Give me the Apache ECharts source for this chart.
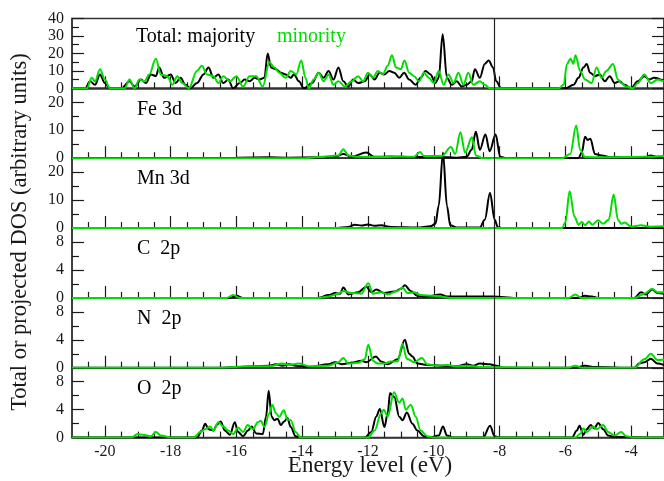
<!DOCTYPE html>
<html><head><meta charset="utf-8">
<script src="https://cdn.jsdelivr.net/npm/echarts@6/dist/echarts.min.js"></script>
<style>html,body{margin:0;padding:0;background:#fff}#c{width:664px;height:481px}</style>
</head><body><div id="c"></div>
<script>
// ---------- data ----------
const energyMin = -21, energyMax = -3, fermiLevel = -8.17;
const xMajorTicks = [-20,-18,-16,-14,-12,-10,-8,-6,-4];
const xMinorTicks = [-20.5,-19.5,-19,-18.5,-17.5,-17,-16.5,-15.5,-15,-14.5,-13.5,-13,-12.5,-11.5,-11,-10.5,-9.5,-9,-8.5,-7.5,-7,-6.5,-5.5,-5,-4.5,-3.5];
const panelNames = ['Total: majority','Fe 3d','Mn 3d','C  2p','N  2p','O  2p'];
const panelMax = [40,25,25,10,10,10];
const yMajorTicks = [[0,10,20,30,40],[0,10,20],[0,10,20],[0,4,8],[0,4,8],[0,4,8]];
const yMinorTicks = [[5,15,25,35],[5,15],[5,15],[2,6],[2,6],[2,6]];

const totalMaj = [[-21,0],[-20.6,0],[-20.45,4],[-20.3,2],[-20.15,8],[-20.0,3],[-19.85,0],[-19.5,0],[-19.25,4],[-19.1,1],[-18.9,5],[-18.75,3],[-18.6,8],[-18.45,7],[-18.35,12],[-18.2,6],[-18.0,8],[-17.85,3],[-17.7,6],[-17.55,2],[-17.4,0],[-17.2,3],[-17.0,8],[-16.85,12],[-16.7,6],[-16.55,8],[-16.4,3],[-16.25,5],[-16.1,0],[-15.9,3],[-15.75,5],[-15.6,4],[-15.45,6],[-15.3,5],[-15.15,6],[-15.05,20],[-14.95,12],[-14.8,11],[-14.65,9],[-14.5,8],[-14.35,6],[-14.25,8],[-14.1,4],[-13.95,0],[-13.7,3],[-13.5,9],[-13.35,6],[-13.2,10],[-13.05,5],[-12.9,12],[-12.75,4],[-12.6,1],[-12.45,5],[-12.3,3],[-12.1,4],[-11.95,8],[-11.8,5],[-11.65,9],[-11.5,8],[-11.35,10],[-11.2,9],[-11.05,6],[-10.9,9],[-10.75,5],[-10.55,2],[-10.4,6],[-10.25,10],[-10.1,8],[-9.95,3],[-9.85,6],[-9.73,31],[-9.6,6],[-9.45,2],[-9.3,4],[-9.15,1],[-9.0,2],[-8.85,4],[-8.75,11],[-8.6,6],[-8.45,14],[-8.33,16],[-8.2,12],[-8.1,4],[-7.95,0],[-6.0,0],[-5.75,2],[-5.6,6],[-5.45,12],[-5.35,14],[-5.25,9],[-5.1,7],[-4.95,8],[-4.8,4],[-4.65,7],[-4.5,3],[-4.35,4],[-4.2,2],[-4.0,0],[-3.8,4],[-3.6,7],[-3.45,5],[-3.3,6],[-3.0,4]];
const totalMin = [[-21,0],[-20.55,0],[-20.4,6],[-20.3,4],[-20.15,11],[-20.0,5],[-19.85,0],[-19.4,0],[-19.25,5],[-19.1,0],[-18.95,5],[-18.8,4],[-18.65,8],[-18.45,17],[-18.3,8],[-18.1,7],[-17.95,2],[-17.8,7],[-17.65,3],[-17.45,0],[-17.2,10],[-17.05,13],[-16.9,8],[-16.7,7],[-16.55,3],[-16.4,7],[-16.2,4],[-16.0,7],[-15.8,1],[-15.6,7],[-15.4,7],[-15.2,1],[-15.0,15],[-14.85,12],[-14.7,9],[-14.5,6],[-14.35,10],[-14.18,8],[-14.03,16],[-13.9,6],[-13.8,0],[-13.65,5],[-13.5,9],[-13.35,4],[-13.2,8],[-13.05,2],[-12.9,4],[-12.7,1],[-12.5,4],[-12.3,7],[-12.15,4],[-12.0,9],[-11.85,6],[-11.7,10],[-11.55,8],[-11.4,13],[-11.27,19],[-11.15,12],[-11.0,11],[-10.89,16],[-10.75,9],[-10.6,7],[-10.45,4],[-10.3,9],[-10.15,6],[-10.0,3],[-9.85,10],[-9.7,2],[-9.55,8],[-9.4,3],[-9.25,9],[-9.1,2],[-8.95,9],[-8.8,2],[-8.6,4],[-8.45,2],[-8.3,0],[-6.2,0],[-6.05,2],[-5.95,14],[-5.84,17],[-5.76,14],[-5.69,19],[-5.55,10],[-5.4,5],[-5.2,3],[-5.05,12],[-4.9,6],[-4.75,10],[-4.55,14],[-4.4,5],[-4.3,3],[-4.15,1],[-3.95,0],[-3.8,3],[-3.6,8],[-3.4,3],[-3.2,5],[-3.0,4]];
const fe3dMaj = [[-21,0],[-16.5,0],[-16,0.2],[-15,0.3],[-14.5,0.2],[-13.5,0.3],[-13,0.5],[-12.75,1.5],[-12.5,0.6],[-12.05,2],[-11.8,0.5],[-11.3,0.6],[-11,0.5],[-10.5,0.4],[-10,0.5],[-9.6,0.3],[-9.3,0.2],[-9.0,0.5],[-8.85,3],[-8.72,9.5],[-8.6,3],[-8.43,8.5],[-8.3,2.5],[-8.12,8.5],[-7.98,0.5],[-7.8,0],[-5.6,0],[-5.5,2],[-5.4,7.7],[-5.32,6.5],[-5.24,7],[-5.1,1.5],[-4.9,1],[-4.6,0.3],[-3.6,0.3],[-3.4,1],[-3.2,0.5],[-3,0.5]];
const fe3dMin = [[-21,0],[-14,0],[-13.5,0.4],[-12.9,1],[-12.75,3.2],[-12.6,1],[-12.3,0.5],[-11.5,0.4],[-11,0.6],[-10.6,0.5],[-10.42,2.2],[-10.3,0.8],[-9.75,0.8],[-9.48,4],[-9.35,1.5],[-9.19,9.3],[-9.05,2],[-8.84,7.5],[-8.72,1],[-8.5,0],[-6.1,0],[-5.85,1.5],[-5.67,11.7],[-5.55,3],[-5.4,0.4],[-4.8,0.3],[-3.5,0.5],[-3,0.8]];
const mn3dMaj = [[-21,0],[-13,0],[-12.6,0.4],[-12.4,1.2],[-12.2,0.9],[-12,1.3],[-11.8,0.8],[-11.6,1],[-11.3,0.4],[-10.5,0.2],[-10.1,0.6],[-9.95,1.5],[-9.85,8],[-9.72,27],[-9.6,8],[-9.5,1],[-9.3,0.2],[-8.6,0.2],[-8.45,3],[-8.29,12.6],[-8.15,3],[-8.05,0.3],[-7.9,0],[-3,0]];
const mn3dMin = [[-21,0],[-6.1,0],[-6.0,2],[-5.87,13.2],[-5.72,4],[-5.6,1.2],[-5.5,2.2],[-5.4,1],[-5.28,2.3],[-5.18,1.2],[-5.0,2.8],[-4.85,1.5],[-4.68,3],[-4.53,12],[-4.4,3],[-4.3,1.5],[-4.2,2],[-4.0,0.5],[-3.7,1],[-3.4,0.5],[-3,0.6]];
const c2pMaj = [[-21,0],[-16.2,0],[-16,0.3],[-15.8,0],[-13.5,0],[-13.2,0.4],[-13,0.7],[-12.85,0.6],[-12.75,1.5],[-12.6,0.5],[-12.3,0.8],[-12.05,1.6],[-11.9,0.8],[-11.75,1.2],[-11.5,0.7],[-11.2,0.9],[-11.0,1.3],[-10.88,1.8],[-10.7,1],[-10.5,0.3],[-10.2,0.2],[-9.8,0.5],[-9.6,0.2],[-8.2,0.2],[-7.5,0],[-5.6,0],[-5.4,0.3],[-5.2,0.2],[-5,0],[-3.9,0],[-3.7,0.8],[-3.55,0.5],[-3.36,1.2],[-3.2,0.7],[-3,0.6]];
const c2pMin = [[-21,0],[-16.3,0],[-16.1,0.4],[-15.9,0],[-13.5,0],[-13.2,0.2],[-12.9,0.6],[-12.75,1],[-12.5,0.7],[-12.2,0.6],[-11.99,2.1],[-11.85,0.6],[-11.6,0.8],[-11.4,0.5],[-11.1,1],[-10.95,1.5],[-10.8,0.7],[-10.6,0.8],[-10.4,0.4],[-10.0,0.3],[-9.5,0],[-5.9,0],[-5.7,0.5],[-5.5,0],[-3.9,0],[-3.6,0.6],[-3.36,1.3],[-3.2,0.8],[-3,0.8]];
const n2pMaj = [[-21,0],[-16.5,0],[-16,0.1],[-15.5,0.2],[-15,0.3],[-14.8,0.5],[-14.6,0.3],[-14.4,0.5],[-14.2,0.3],[-13.8,0.1],[-13.2,0.5],[-13,0.8],[-12.8,0.5],[-12.5,0.7],[-12.2,1],[-12.05,0.8],[-11.76,1.6],[-11.6,0.9],[-11.4,0.5],[-11.1,1.2],[-10.88,4.0],[-10.75,2],[-10.65,1.6],[-10.5,0.6],[-10.2,0.4],[-9.8,0.3],[-9.3,0.2],[-9,0.5],[-8.8,0.3],[-8.6,0.6],[-8.3,0.5],[-8.1,0.3],[-7.9,0],[-5.7,0],[-5.4,0.3],[-5.1,0.1],[-3.9,0],[-3.75,0.6],[-3.6,0.8],[-3.4,1.3],[-3.2,0.6],[-3,0.4]];
const n2pMin = [[-21,0],[-16.5,0],[-15.6,0.2],[-15,0.2],[-14.6,0.6],[-14.4,0.4],[-14.1,0.6],[-13.8,0.2],[-13.2,0.3],[-12.9,0.8],[-12.75,1.4],[-12.6,0.6],[-12.3,0.7],[-12.1,1.2],[-11.99,3.3],[-11.85,1],[-11.7,0.6],[-11.5,0.6],[-11.3,0.9],[-11.1,0.9],[-10.95,3.4],[-10.82,1.3],[-10.6,0.8],[-10.36,1.4],[-10.2,0.5],[-9.9,0.3],[-9.6,0.4],[-9.3,0.2],[-9.0,0.3],[-8.6,0.1],[-5.9,0],[-5.7,0.3],[-5.5,0],[-3.9,0],[-3.6,1.2],[-3.4,2.0],[-3.2,1.1],[-3,1.2]];
const o2pMaj = [[-21,0],[-17.2,0],[-17.05,1.0],[-16.95,2.0],[-16.85,1.2],[-16.7,1.0],[-16.6,1.8],[-16.48,2.3],[-16.35,1.0],[-16.2,0.4],[-16.05,2.2],[-15.95,0.8],[-15.8,0.2],[-15.65,1.0],[-15.54,1.6],[-15.4,0.6],[-15.2,0.5],[-15.1,3],[-15.02,6.7],[-14.93,3],[-14.85,2.5],[-14.75,2.7],[-14.65,1.8],[-14.55,2.3],[-14.45,2.8],[-14.35,1.5],[-14.2,0.2],[-14.0,0],[-12.1,0],[-11.9,0.8],[-11.75,3],[-11.64,4.1],[-11.5,1.5],[-11.4,3.5],[-11.33,6.4],[-11.2,5.8],[-11.05,3],[-10.95,2.5],[-10.82,3.6],[-10.65,2],[-10.5,1],[-10.3,0.2],[-10.1,0],[-9.85,0.3],[-9.72,1.6],[-9.6,0.3],[-9.4,0],[-8.5,0],[-8.29,1.7],[-8.15,0.2],[-8,0],[-5.8,0],[-5.65,1],[-5.57,1.7],[-5.45,0.4],[-5.35,1.2],[-5.23,1.8],[-5.12,1.3],[-5.0,2.1],[-4.85,1.2],[-4.7,0.3],[-4.5,0.1],[-3,0]];
const o2pMin = [[-21,0],[-19.2,0],[-19,0.5],[-18.85,0.4],[-18.6,0.2],[-18.45,0.8],[-18.3,0.3],[-18,0],[-17.3,0],[-17.1,0.8],[-16.95,1.2],[-16.8,1.6],[-16.7,1.0],[-16.55,2.2],[-16.4,1.6],[-16.25,1.0],[-16.1,0.5],[-15.95,1.4],[-15.8,0.8],[-15.66,1.8],[-15.5,1.2],[-15.35,2.2],[-15.26,2.4],[-15.15,1.5],[-15.0,3.5],[-14.91,4.7],[-14.8,3.5],[-14.7,3.0],[-14.56,3.9],[-14.45,2.6],[-14.35,2.5],[-14.2,0.8],[-14.05,0],[-12.0,0],[-11.8,1],[-11.6,3.5],[-11.52,4.0],[-11.4,3],[-11.21,6.5],[-11.05,5],[-10.95,5.6],[-10.85,4],[-10.7,4.7],[-10.55,3],[-10.4,1],[-10.2,0.2],[-10.0,0],[-5.7,0],[-5.55,0.5],[-5.45,1.3],[-5.35,0.8],[-5.15,1.6],[-5.05,1.2],[-4.85,1.8],[-4.7,0.8],[-4.5,0.3],[-4.3,0.8],[-4.15,0.2],[-3.9,0],[-3,0]];

const majoritySets = [totalMaj, fe3dMaj, mn3dMaj, c2pMaj, n2pMaj, o2pMaj];
const minoritySets = [totalMin, fe3dMin, mn3dMin, c2pMin, n2pMin, o2pMin];

// ---------- chart ----------
const FONT = 'Liberation Serif';
const INK = '#1a1a1a';
const GREEN = '#00dd00';
const PANEL_TOP = 18.5, PANEL_H = 69.85;

const grids = [], xAxes = [], yAxes = [], series = [], graphics = [];
for (let i = 0; i < 6; i++) {
  grids.push({left: 72, right: -3, top: PANEL_TOP + i*PANEL_H, height: PANEL_H,
    show: true, borderColor: '#333', borderWidth: 1.5, backgroundColor: 'transparent'});
  const base = {type: 'value', gridIndex: i, min: energyMin, max: energyMax, position: 'bottom',
    splitLine: {show: false}};
  xAxes.push(Object.assign({}, base, {
    axisLine: {show: true, onZero: false, lineStyle: {color: '#333', width: 1.5}},
    axisTick: {show: true, inside: true, length: 12, customValues: xMajorTicks, lineStyle: {color: INK, width: 1.2}},
    axisLabel: {show: i === 5, customValues: xMajorTicks, fontFamily: FONT, fontSize: 16, color: INK, margin: 6}
  }));
  xAxes.push(Object.assign({}, base, {
    axisLine: {show: false},
    axisTick: {show: true, inside: true, length: 6, customValues: xMinorTicks, lineStyle: {color: INK, width: 1.2}},
    axisLabel: {show: false}
  }));
  const ybase = {type: 'value', gridIndex: i, min: 0, max: panelMax[i], splitLine: {show: false}};
  ['left','right'].forEach(pos => {
    yAxes.push(Object.assign({}, ybase, {position: pos,
      axisLine: {show: true, onZero: false, lineStyle: {color: '#333', width: 1.5}},
      axisTick: {show: true, inside: true, length: 12, customValues: yMajorTicks[i], lineStyle: {color: INK, width: 1.2}},
      axisLabel: {show: pos === 'left', customValues: yMajorTicks[i], fontFamily: FONT, fontSize: 16, color: INK, margin: 8}
    }));
    yAxes.push(Object.assign({}, ybase, {position: pos,
      axisLine: {show: false},
      axisTick: {show: true, inside: true, length: 7, customValues: yMinorTicks[i], lineStyle: {color: INK, width: 1.2}},
      axisLabel: {show: false}
    }));
  });
  const common = {type: 'line', xAxisIndex: 2*i, yAxisIndex: 4*i, showSymbol: false, smooth: 0.35,
    smoothMonotone: 'x', animation: false, clip: i !== 2};
  series.push(Object.assign({}, common, {name: 'maj' + i, data: majoritySets[i], z: 3,
    lineStyle: {color: '#000', width: 2},
    markLine: {symbol: 'none', silent: true, animation: false, label: {show: false},
      lineStyle: {color: '#222', width: 1.2, type: 'solid'}, data: [{xAxis: fermiLevel}]}}));
  series.push(Object.assign({}, common, {name: 'min' + i, data: minoritySets[i], z: 4,
    lineStyle: {color: GREEN, width: 2}}));
  graphics.push({type: 'text', x: i === 0 ? 136 : 137, y: PANEL_TOP + i*PANEL_H + (i === 0 ? 18.5 : 21),
    style: {text: panelNames[i], fontFamily: FONT, fontSize: 20, fill: '#000', verticalAlign: 'middle'}});
}
graphics.push({type: 'text', x: 277, y: PANEL_TOP + 18.5,
  style: {text: 'minority', fontFamily: FONT, fontSize: 20, fill: GREEN, verticalAlign: 'middle'}});
graphics.push({type: 'text', x: 20, y: 232, rotation: Math.PI/2,
  style: {text: 'Total or projected DOS (arbitrary units)', fontFamily: FONT, fontSize: 22.5, fill: INK,
    align: 'center', verticalAlign: 'middle'}});
graphics.push({type: 'text', x: 370, y: 466,
  style: {text: 'Energy level (eV)', fontFamily: FONT, fontSize: 23, fill: INK,
    align: 'center', verticalAlign: 'middle'}});

const chart = echarts.init(document.getElementById('c'), null, {renderer: 'canvas'});
chart.setOption({animation: false, grid: grids, xAxis: xAxes, yAxis: yAxes, series: series, graphic: graphics});
</script></body></html>
